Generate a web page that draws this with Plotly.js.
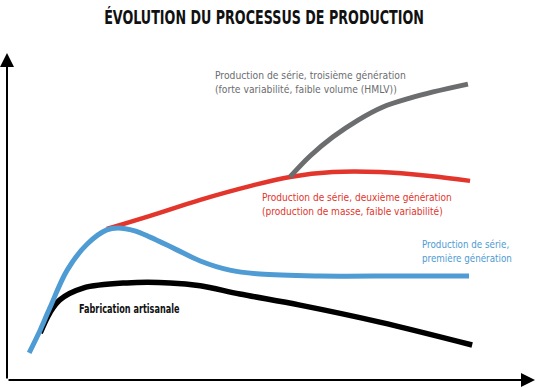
<!DOCTYPE html>
<html><head><meta charset="utf-8">
<script src="https://cdn.plot.ly/plotly-3.0.1.min.js"></script>
<style>body{margin:0;background:#fff}</style>
</head><body>
<div id="chart" style="width:540px;height:388px"></div>
<script>
// Conceptual curves (abstract units: x = time, y = output)
const artisanX = [6.3, 8.1, 10.0, 14.4, 22.7, 30.9, 36.6, 44.1, 55.5, 70.6, 88.1];
const artisanY = [14.4, 20.5, 24.5, 28.1, 29.7, 29.7, 28.8, 26.3, 22.9, 17.7, 10.7];

const gen1X = [4.2, 6.3, 8.1, 11.4, 15.2, 18.9, 21.0, 24.2, 27.1, 31.8, 36.6, 42.2, 47.9, 59.3, 74.4, 87.5];
const gen1Y = [8.3, 15.3, 22.0, 33.6, 41.6, 45.9, 46.5, 45.6, 43.7, 40.1, 36.4, 33.6, 32.4, 31.8, 31.8, 31.8];

const gen2X = [18.9, 27.1, 36.6, 46.0, 53.6, 61.7, 70.6, 80.1, 87.7];
const gen2Y = [46.2, 50.2, 55.1, 59.3, 62.1, 63.6, 63.6, 62.4, 60.9];

const gen3X = [53.6, 57.4, 61.7, 66.5, 71.2, 76.3, 80.7, 87.3];
const gen3Y = [62.1, 68.5, 74.3, 79.5, 83.5, 86.2, 88.1, 90.5];

const labels = {
  artisan: "Fabrication artisanale",
  gen1: "Production de série,<br>première génération",
  gen2: "Production de série, deuxième génération<br>(production de masse, faible variabilité)",
  gen3: "Production de série, troisième génération<br>(forte variabilité, faible volume (HMLV))"
};
const titleText = "ÉVOLUTION DU PROCESSUS DE PRODUCTION";

const FONT = "'Liberation Sans Narrow', 'DejaVu Sans Condensed', 'Arial Narrow', sans-serif";
const C = {black:"#000000", blue:"#4f9bd3", red:"#e2352c", gray:"#6b6d6f"};

function tr(x, y, color, w) {
  return {x:x, y:y, mode:"lines", type:"scatter", hoverinfo:"skip",
          line:{color:color, width:w, shape:"spline", smoothing:1}, cliponaxis:false};
}
const data = [
  tr(gen2X, gen2Y, C.red, 4.5),
  tr(gen3X, gen3Y, C.gray, 5),
  tr(artisanX, artisanY, C.black, 5.5),
  tr(gen1X, gen1Y, C.blue, 5)
];

const layout = {
  width:540, height:388,
  margin:{l:7, r:5, t:53, b:8},
  paper_bgcolor:"#fff", plot_bgcolor:"#fff",
  showlegend:false,
  title:{text:"<b>"+titleText+"</b>", x:0.489, xanchor:"center", y:0.955, yanchor:"middle",
         font:{family:FONT, size:20, color:"#111"}},
  xaxis:{range:[0,100], visible:false, fixedrange:true},
  yaxis:{range:[0,100], visible:false, fixedrange:true},
  annotations:[
    {x:100, y:0, ax:0, ay:0, axref:"x", ayref:"y", xref:"x", yref:"y", text:"",
     showarrow:true, arrowhead:2, arrowsize:1.4, arrowwidth:2, arrowcolor:"#000", standoff:0},
    {x:0, y:100, ax:0, ay:0, axref:"x", ayref:"y", xref:"x", yref:"y", text:"",
     showarrow:true, arrowhead:2, arrowsize:1.4, arrowwidth:2, arrowcolor:"#000", standoff:0},
    {x:39.0, y:91.1, xref:"x", yref:"y", text:labels.gen3, showarrow:false,
     xanchor:"left", yanchor:"middle", align:"left", font:{family:FONT, size:11, color:C.gray}},
    {x:47.9, y:53.8, xref:"x", yref:"y", text:labels.gen2, showarrow:false,
     xanchor:"left", yanchor:"middle", align:"left", font:{family:FONT, size:11, color:C.red}},
    {x:78.2, y:39.4, xref:"x", yref:"y", text:labels.gen1, showarrow:false,
     xanchor:"left", yanchor:"middle", align:"left", font:{family:FONT, size:11, color:C.blue}},
    {x:13.3, y:22.0, xref:"x", yref:"y", text:"<b>"+labels.artisan+"</b>", showarrow:false,
     xanchor:"left", yanchor:"middle", align:"left", font:{family:FONT, size:12.5, color:"#111"}}
  ]
};

// condensed look: horizontal squeeze of the text glyphs to the reference widths
const textWidths = {2:191, 3:190, 4:90, 5:101};
const titleWidth = 320;

function squeeze(el, targetW, about) {
  const bb = el.getBBox();
  if (!bb.width) return;
  const s = Math.min(1, targetW / bb.width);
  const cx = about === "center" ? bb.x + bb.width / 2 : bb.x;
  const prev = el.getAttribute("transform") || "";
  el.setAttribute("transform", prev + " translate(" + cx + ",0) scale(" + s + ",1) translate(" + (-cx) + ",0)");
}

Plotly.newPlot("chart", data, layout, {displayModeBar:false, staticPlot:true}).then(function (gd) {
  gd.querySelectorAll("g.annotation").forEach(function (g) {
    const idx = +g.getAttribute("data-index");
    if (textWidths[idx]) {
      const t = g.querySelector("text.annotation-text");
      if (t) squeeze(t, textWidths[idx], "left");
    }
  });
  const tt = gd.querySelector("text.gtitle");
  if (tt) squeeze(tt, titleWidth, "center");
});
</script>
</body></html>
